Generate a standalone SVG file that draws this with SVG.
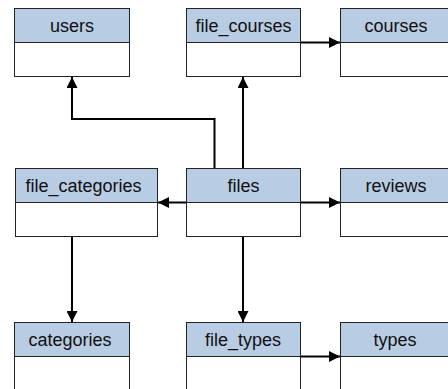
<svg xmlns="http://www.w3.org/2000/svg" width="448" height="389" viewBox="0 0 448 389">
<style>
.hd{fill:#b8cce4;stroke:#222;stroke-width:1}
.bd{fill:#fff;stroke:#222;stroke-width:1}
.t{font-family:"Liberation Sans",Arial,sans-serif;font-size:18px;fill:#111;text-anchor:middle}
.c{fill:none;stroke:#000;stroke-width:2;marker-end:url(#ah)}
</style>
<defs>
<marker id="ah" viewBox="0 0 10 10" refX="10" refY="5" markerWidth="5.5" markerHeight="5.5" orient="auto" markerUnits="strokeWidth">
<path d="M0,0 L10,5 L0,10 Z" fill="#000"/>
</marker>
</defs>
<rect width="448" height="389" fill="#fff"/>
<g id="users"><rect class="bd" x="14.5" y="42.5" width="115" height="34"/><rect class="hd" x="14.5" y="8.5" width="115" height="34"/><text class="t" x="72" y="32">users</text></g>
<g id="file_courses"><rect class="bd" x="186.5" y="42.5" width="114" height="34"/><rect class="hd" x="186.5" y="8.5" width="114" height="34"/><text class="t" x="243.5" y="32">file_courses</text></g>
<g id="courses"><rect class="bd" x="340.5" y="42.5" width="115" height="34"/><rect class="hd" x="340.5" y="8.5" width="115" height="34"/><text class="t" x="396" y="32">courses</text></g>
<g id="file_categories"><rect class="bd" x="15.5" y="202.5" width="142" height="34"/><rect class="hd" x="15.5" y="168.5" width="142" height="34"/><text class="t" x="83.5" y="192">file_categories</text></g>
<g id="files"><rect class="bd" x="186.5" y="202.5" width="114" height="34"/><rect class="hd" x="186.5" y="168.5" width="114" height="34"/><text class="t" x="243.5" y="192">files</text></g>
<g id="reviews"><rect class="bd" x="340.5" y="202.5" width="115" height="34"/><rect class="hd" x="340.5" y="168.5" width="115" height="34"/><text class="t" x="396" y="192">reviews</text></g>
<g id="categories"><rect class="bd" x="14.5" y="356.5" width="115" height="40"/><rect class="hd" x="14.5" y="322.5" width="115" height="34"/><text class="t" x="70" y="346">categories</text></g>
<g id="file_types"><rect class="bd" x="186.5" y="356.5" width="114" height="40"/><rect class="hd" x="186.5" y="322.5" width="114" height="34"/><text class="t" x="243" y="346">file_types</text></g>
<g id="types"><rect class="bd" x="340.5" y="356.5" width="115" height="40"/><rect class="hd" x="340.5" y="322.5" width="115" height="34"/><text class="t" x="395" y="346">types</text></g>
<g id="connectors">
<path class="c" d="M214.5,168 V119 H72 V77"/>
<path class="c" d="M243,168 V77"/>
<path class="c" d="M301,42.5 H340"/>
<path class="c" d="M186,202.5 H158"/>
<path class="c" d="M301,202.5 H340"/>
<path class="c" d="M72,237 V322"/>
<path class="c" d="M243,237 V322"/>
<path class="c" d="M301,356.5 H340"/>
</g>
</svg>
